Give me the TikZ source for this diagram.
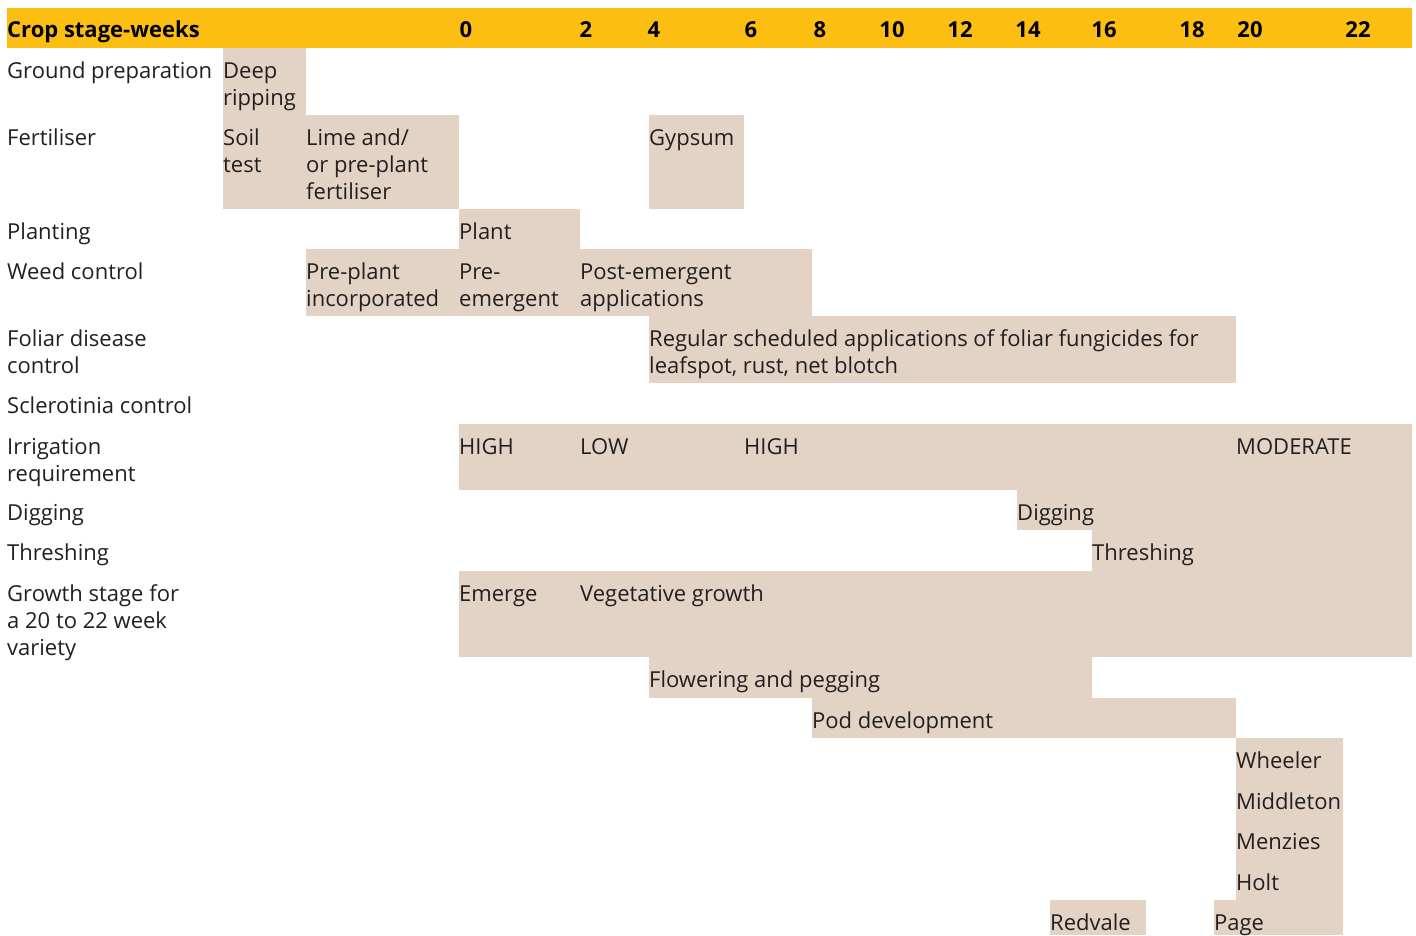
\documentclass[tikz,border=0pt]{standalone}
\usepackage{fontspec}
\setmainfont{Open Sans}
\definecolor{hdr}{HTML}{FDBE12}
\definecolor{cellc}{HTML}{E2D3C5}
\definecolor{ink}{HTML}{231F20}
\newcommand\ml[1]{\begin{tabular}[t]{@{}l@{}}#1\end{tabular}}
\tikzset{
  cellbox/.style={fill=cellc, draw=none, inner sep=0pt, outer sep=0pt, anchor=north west},
  lbl/.style={anchor=base west, inner sep=0pt, text=ink, font=\fontsize{22}{27}\selectfont},
  hd/.style={anchor=base, inner sep=0pt, text=black, font=\fontsize{22}{27}\selectfont\bfseries},
}
\begin{document}
\begin{tikzpicture}[x=1pt,y=-1pt]
\useasboundingbox (0,0) rectangle (1416,935);
% header
\node[fill=hdr, inner sep=0pt, minimum width=1405pt, minimum height=40pt, anchor=north west] (bar) at (7,8) {};
\node[hd, anchor=base west] (hcrop) at (7,37) {Crop stage-weeks};
\node[hd] (h0) at (466,37) {0};
\node[hd] (h2) at (586,37) {2};
\node[hd] (h4) at (654,37) {4};
\node[hd] (h6) at (751,37) {6};
\node[hd] (h8) at (820,37) {8};
\node[hd] (h10) at (892,37) {10};
\node[hd] (h12) at (960,37) {12};
\node[hd] (h14) at (1028,37) {14};
\node[hd] (h16) at (1104,37) {16};
\node[hd] (h18) at (1192,37) {18};
\node[hd] (h20) at (1250,37) {20};
\node[hd] (h22) at (1358,37) {22};
% cells
\node[cellbox, minimum width=83pt,  minimum height=67pt] (deep) at (223,48) {};
\node[cellbox, minimum width=83pt,  minimum height=94pt] (soil) at (223,115) {};
\node[cellbox, minimum width=153pt, minimum height=94pt] (lime) at (306,115) {};
\node[cellbox, minimum width=95pt,  minimum height=94pt] (gyps) at (649,115) {};
\node[cellbox, minimum width=121pt, minimum height=40pt] (plant) at (459,209) {};
\node[cellbox, minimum width=153pt, minimum height=67pt] (ppi) at (306,249) {};
\node[cellbox, minimum width=121pt, minimum height=67pt] (pre) at (459,249) {};
\node[cellbox, minimum width=232pt, minimum height=67pt] (post) at (580,249) {};
\node[cellbox, minimum width=587pt, minimum height=67pt] (fol) at (649,316) {};
\node[cellbox, minimum width=953pt, minimum height=66pt] (irr) at (459,424) {};
\node[cellbox, minimum width=395pt, minimum height=40pt] (dig) at (1017,490) {};
\node[cellbox, minimum width=320pt, minimum height=41pt] (thr) at (1092,530) {};
\node[cellbox, minimum width=953pt, minimum height=86pt] (grow) at (459,571) {};
\node[cellbox, minimum width=443pt, minimum height=41pt] (flow) at (649,657) {};
\node[cellbox, minimum width=424pt, minimum height=40pt] (pod) at (812,698) {};
\node[cellbox, minimum width=107pt, minimum height=41pt] (whe) at (1236,738) {};
\node[cellbox, minimum width=107pt, minimum height=40pt] (mid) at (1236,779) {};
\node[cellbox, minimum width=107pt, minimum height=41pt] (men) at (1236,819) {};
\node[cellbox, minimum width=107pt, minimum height=40pt] (holt) at (1236,860) {};
\node[cellbox, minimum width=96pt,  minimum height=35pt] (red) at (1050,900) {};
\node[cellbox, minimum width=129pt, minimum height=35pt] (page) at (1214,900) {};
% row labels
\node[lbl] (lgp) at (7,78) {Ground preparation};
\node[lbl] (lfe) at (7,145) {Fertiliser};
\node[lbl] (lpl) at (7,239) {Planting};
\node[lbl] (lwe) at (7,279) {Weed control};
\node[lbl] (lfo) at (7,346) {\ml{Foliar disease\\control}};
\node[lbl] (lsc) at (7,413) {Sclerotinia control};
\node[lbl] (lir) at (7,454) {\ml{Irrigation\\requirement}};
\node[lbl] (ldi) at (7,520) {Digging};
\node[lbl] (lth) at (7,560) {Threshing};
\node[lbl] (lgr) at (7,601) {\ml{Growth stage for\\a 20 to 22 week\\variety}};
% cell texts
\node[lbl] (tdeep) at (223,78) {\ml{Deep\\ripping}};
\node[lbl] (tsoil) at (223,145) {\ml{Soil\\test}};
\node[lbl] (tlime) at (306,145) {\ml{Lime and/\\or pre-plant\\fertiliser}};
\node[lbl] (tgyps) at (649,145) {Gypsum};
\node[lbl] (tplant) at (459,239) {Plant};
\node[lbl] (tppi) at (306,279) {\ml{Pre-plant\\incorporated}};
\node[lbl] (tpre) at (459,279) {\ml{Pre-\\emergent}};
\node[lbl] (tpost) at (580,279) {\ml{Post-emergent\\applications}};
\node[lbl] (tfol) at (649,346) {\ml{Regular scheduled applications of foliar fungicides for\\leafspot, rust, net blotch}};
\node[lbl] (thigh1) at (459,454) {HIGH};
\node[lbl] (tlow) at (580,454) {LOW};
\node[lbl] (thigh2) at (744,454) {HIGH};
\node[lbl] (tmod) at (1236,454) {MODERATE};
\node[lbl] (tdig) at (1017,520) {Digging};
\node[lbl] (tthr) at (1092,560) {Threshing};
\node[lbl] (temer) at (459,601) {Emerge};
\node[lbl] (tveg) at (580,601) {Vegetative growth};
\node[lbl] (tflow) at (649,687) {Flowering and pegging};
\node[lbl] (tpod) at (812,728) {Pod development};
\node[lbl] (twhe) at (1236,768) {Wheeler};
\node[lbl] (tmid) at (1236,809) {Middleton};
\node[lbl] (tmen) at (1236,849) {Menzies};
\node[lbl] (tholt) at (1236,890) {Holt};
\node[lbl] (tred) at (1050,930) {Redvale};
\node[lbl] (tpage) at (1214,930) {Page};
\end{tikzpicture}
\end{document}
